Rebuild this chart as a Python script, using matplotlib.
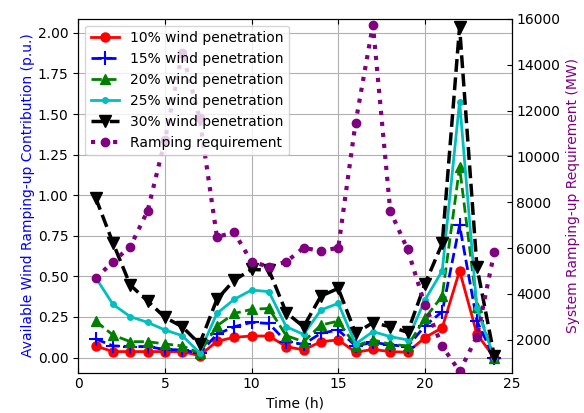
import matplotlib
matplotlib.use('Agg')
import matplotlib.pyplot as plt

hours = list(range(1, 25))

# available wind ramping-up contribution (p.u.)
wind_10 = [0.072, 0.037, 0.037, 0.037, 0.037, 0.037, 0.012, 0.100, 0.125, 0.133, 0.133, 0.068,
           0.047, 0.098, 0.109, 0.033, 0.050, 0.037, 0.033, 0.123, 0.184, 0.535, 0.145, 0.0]
wind_15 = [0.115, 0.072, 0.068, 0.068, 0.050, 0.047, 0.027, 0.143, 0.190, 0.217, 0.210, 0.098,
           0.082, 0.150, 0.170, 0.072, 0.094, 0.078, 0.068, 0.195, 0.283, 0.815, 0.225, 0.0]
wind_20 = [0.225, 0.139, 0.098, 0.098, 0.084, 0.072, 0.027, 0.195, 0.272, 0.297, 0.303, 0.135,
           0.098, 0.200, 0.225, 0.072, 0.109, 0.082, 0.072, 0.242, 0.379, 1.173, 0.313, 0.0]
wind_25 = [0.494, 0.328, 0.252, 0.217, 0.170, 0.135, 0.030, 0.272, 0.359, 0.416, 0.406, 0.190,
           0.143, 0.293, 0.334, 0.084, 0.160, 0.129, 0.109, 0.354, 0.535, 1.577, 0.303, 0.0]
wind_30 = [0.985, 0.707, 0.447, 0.348, 0.248, 0.190, 0.084, 0.359, 0.477, 0.543, 0.539, 0.277,
           0.190, 0.379, 0.426, 0.150, 0.215, 0.190, 0.156, 0.453, 0.703, 2.037, 0.559, 0.010]

# system ramping-up requirement (MW)
ramping = [4680, 5400, 6060, 7620, 10700, 14530, 11680, 6490, 6680, 5400, 5190, 5400,
           6010, 5870, 6010, 11470, 15740, 7620, 5940, 3520, 1710, 620, 2140, 5810]

fig, ax1 = plt.subplots(figsize=(5.84, 4.13), dpi=100)
fig.subplots_adjust(left=0.134, right=0.876, top=0.955, bottom=0.098)

ax1.plot(hours, wind_10, color='r', linestyle='-', marker='o', lw=2, ms=6.5, label='10% wind penetration')
ax1.plot(hours, wind_15, color='b', linestyle='--', marker='+', lw=2, ms=10, mew=1.5, label='15% wind penetration')
ax1.plot(hours, wind_20, color='g', linestyle='--', marker='^', lw=2, ms=7, label='20% wind penetration')
ax1.plot(hours, wind_25, color='c', linestyle='-', marker='.', lw=2, ms=8, label='25% wind penetration')
ax1.plot(hours, wind_30, color='k', linestyle='--', marker='v', lw=2.5, ms=8, label='30% wind penetration')

ax1.set_xlim(0, 25)
ax1.set_ylim(-0.092, 2.088)
ax1.set_yticks([0, 0.25, 0.5, 0.75, 1.0, 1.25, 1.5, 1.75, 2.0])
ax1.set_xlabel('Time (h)', fontsize=10)
ax1.set_ylabel('Available Wind Ramping-up Contribution (p.u.)', color='blue', fontsize=10, labelpad=2)
ax1.grid(True, color='#b0b0b0')
ax1.tick_params(axis='x', direction='in', top=True)

ax2 = ax1.twinx()
ax2.plot(hours, ramping, ':o', color='purple', lw=3, ms=6, label='Ramping requirement')
ax2.set_ylim(570, 16010)
ax2.set_yticks(range(2000, 16001, 2000))
ax2.set_ylabel('System Ramping-up Requirement (MW)', color='purple', fontsize=10)
ax2.tick_params(axis='y', direction='in')

h1, l1 = ax1.get_legend_handles_labels()
h2, l2 = ax2.get_legend_handles_labels()
ax2.legend(h1 + h2, l1 + l2, loc='upper left', fontsize=10)

plt.savefig('out.png')
